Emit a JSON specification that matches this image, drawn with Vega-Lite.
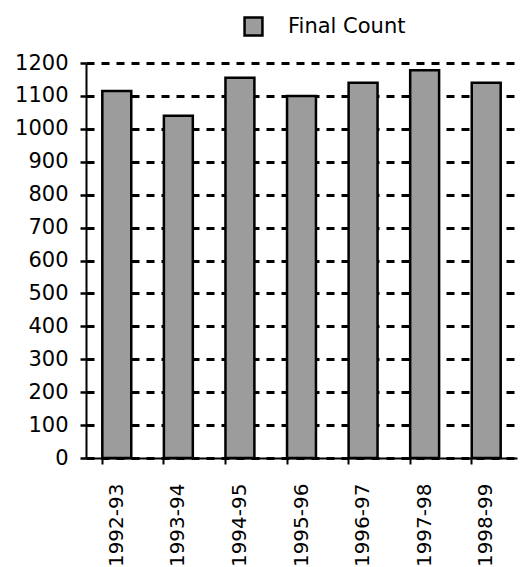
{
  "$schema": "https://vega.github.io/schema/vega-lite/v6.json",
  "autosize": "none",
  "width": 431,
  "height": 395,
  "padding": {"left": 86, "top": 63, "right": 4, "bottom": 109},
  "background": "white",
  "data": {
    "values": [
      {"season": "1992-93", "count": 1115, "series": "Final Count"},
      {"season": "1993-94", "count": 1040, "series": "Final Count"},
      {"season": "1994-95", "count": 1155, "series": "Final Count"},
      {"season": "1995-96", "count": 1100, "series": "Final Count"},
      {"season": "1996-97", "count": 1140, "series": "Final Count"},
      {"season": "1997-98", "count": 1178, "series": "Final Count"},
      {"season": "1998-99", "count": 1140, "series": "Final Count"}
    ]
  },
  "mark": {"type": "bar", "stroke": "black", "strokeWidth": 2.5},
  "encoding": {
    "x": {
      "field": "season",
      "type": "nominal",
      "sort": null,
      "scale": {"paddingInner": 0.53, "paddingOuter": 0.265},
      "axis": {
        "title": null,
        "labelAngle": -90,
        "labelFont": "DejaVu Sans",
        "labelFontSize": 20,
        "labelColor": "black",
        "labelPadding": 19,
        "domainColor": "black",
        "domainWidth": 2,
        "tickColor": "black",
        "tickWidth": 2,
        "tickSize": 6,
        "bandPosition": 0,
        "grid": false
      }
    },
    "y": {
      "field": "count",
      "type": "quantitative",
      "scale": {"domain": [0, 1200], "nice": false},
      "axis": {
        "title": null,
        "format": "d",
        "values": [0, 100, 200, 300, 400, 500, 600, 700, 800, 900, 1000, 1100, 1200],
        "labelFont": "DejaVu Sans",
        "labelFontSize": 21,
        "labelColor": "black",
        "labelPadding": 12,
        "domainColor": "black",
        "domainWidth": 2,
        "tickColor": "black",
        "tickWidth": 2.5,
        "tickSize": 6,
        "grid": true,
        "gridColor": "black",
        "gridWidth": 3,
        "gridDash": [8, 7],
        "gridOpacity": 1
      }
    },
    "fill": {
      "field": "series",
      "type": "nominal",
      "scale": {"range": ["#9c9c9c"]},
      "legend": {
        "title": null,
        "orient": "none",
        "legendX": 157,
        "legendY": -47,
        "symbolType": "square",
        "symbolSize": 320,
        "symbolStrokeColor": "black",
        "symbolStrokeWidth": 2.5,
        "labelFont": "DejaVu Sans",
        "labelFontSize": 21,
        "labelColor": "black",
        "labelOffset": 24
      }
    }
  },
  "config": {"view": {"stroke": null}}
}
